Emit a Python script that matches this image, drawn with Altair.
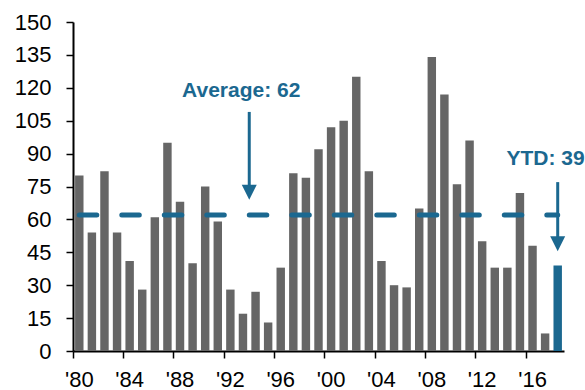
import altair as alt
import pandas as pd

# Annual counts, 1980-2018 (2018 is year-to-date)
years = list(range(1980, 2019))
counts = [80, 54, 82, 54, 41, 28, 61, 95, 68, 40,
          75, 59, 28, 17, 27, 13, 38, 81, 79, 92,
          102, 105, 125, 82, 41, 30, 29, 65, 134, 117,
          76, 96, 50, 38, 38, 72, 48, 8, 39]
average = 62
ytd_year = 2018
ytd_value = 39
tick_years = list(range(1980, 2017, 4))
y_ticks = list(range(0, 151, 15))

GRAY = "#666666"
BLUE = "#1b6890"
FONT = "Liberation Sans"

df = pd.DataFrame({"year": years, "count": counts})

x_scale = alt.Scale(domain=years, paddingInner=0, paddingOuter=0)
y_scale = alt.Scale(domain=[0, 150], nice=False, zero=True)

# Shared axis definitions used by every layer so the merged axes agree
x_axis = alt.Axis(
    values=tick_years,
    bandPosition=0,
    labelExpr="\"'\" + substring(toString(datum.value), 2, 4)",
    labelAngle=0,
    labelPadding=11,
    title=None,
    grid=False,
)
y_axis = alt.Axis(
    values=y_ticks,
    labelPadding=15,
    title=None,
    grid=False,
)

bars = alt.Chart(df).mark_bar(width={"band": 0.67}).encode(
    x=alt.X("year:O", scale=x_scale, sort=None, axis=x_axis),
    y=alt.Y("count:Q", scale=y_scale, axis=y_axis),
    color=alt.condition(alt.datum.year == ytd_year, alt.value(BLUE), alt.value(GRAY)),
)

# Dashed average line spanning the first to the last year
avg_df = pd.DataFrame({"x1": [years[0]], "x2": [years[-1]], "y": [average]})
avg_line = alt.Chart(avg_df).mark_rule(
    color=BLUE, strokeWidth=5, strokeDash=[17.5, 25], strokeCap="round"
).encode(
    x=alt.X("x1:O", scale=x_scale, axis=x_axis),
    x2="x2:O",
    y=alt.Y("y:Q", scale=y_scale, axis=y_axis),
)

# Arrows: shaft (rule) plus a triangular head
arrow_df = pd.DataFrame({
    "year": [1994, ytd_year],
    "top": [109, 77],
    "bottom": [75, 51],
    "head": [72.4, 48.9],
})
ARROW_HEAD = "M-1,-1L1,-1L0,1Z"

shaft_avg = alt.Chart(arrow_df.iloc[[0]]).mark_rule(color=BLUE, strokeWidth=3).encode(
    x=alt.X("year:O", scale=x_scale, bandPosition=0, axis=x_axis),
    y=alt.Y("top:Q", scale=y_scale, axis=y_axis),
    y2="bottom:Q",
)
head_avg = alt.Chart(arrow_df.iloc[[0]]).mark_point(
    shape=ARROW_HEAD, filled=True, size=225, color=BLUE, opacity=1
).encode(
    x=alt.X("year:O", scale=x_scale, bandPosition=0, axis=x_axis),
    y=alt.Y("head:Q", scale=y_scale, axis=y_axis),
)
shaft_ytd = alt.Chart(arrow_df.iloc[[1]]).mark_rule(color=BLUE, strokeWidth=3).encode(
    x=alt.X("year:O", scale=x_scale, axis=x_axis),
    y=alt.Y("top:Q", scale=y_scale, axis=y_axis),
    y2="bottom:Q",
)
head_ytd = alt.Chart(arrow_df.iloc[[1]]).mark_point(
    shape=ARROW_HEAD, filled=True, size=225, color=BLUE, opacity=1
).encode(
    x=alt.X("year:O", scale=x_scale, axis=x_axis),
    y=alt.Y("head:Q", scale=y_scale, axis=y_axis),
)

# Text annotations
label_df = pd.DataFrame({
    "year": [1994, ytd_year],
    "y": [115.8, 85],
    "text": [f"Average: {average}", f"YTD: {ytd_value}"],
})
avg_text = alt.Chart(label_df.iloc[[0]]).mark_text(
    font=FONT, fontSize=21, fontWeight="bold", color=BLUE,
    align="center", baseline="alphabetic", dx=-8,
).encode(
    x=alt.X("year:O", scale=x_scale, bandPosition=0, axis=x_axis),
    y=alt.Y("y:Q", scale=y_scale, axis=y_axis),
    text="text:N",
)
ytd_text = alt.Chart(label_df.iloc[[1]]).mark_text(
    font=FONT, fontSize=21, fontWeight="bold", color=BLUE,
    align="right", baseline="alphabetic", dx=27,
).encode(
    x=alt.X("year:O", scale=x_scale, axis=x_axis),
    y=alt.Y("y:Q", scale=y_scale, axis=y_axis),
    text="text:N",
)

chart = alt.layer(
    bars, avg_line, shaft_avg, head_avg, shaft_ytd, head_ytd, avg_text, ytd_text
).properties(
    width=491,
    height=329,
    autosize=alt.AutoSizeParams(type="none"),
    padding={"left": 73, "top": 22, "right": 21, "bottom": 39},
).configure_view(
    strokeWidth=0
).configure_axis(
    labelFont=FONT,
    labelFontSize=22,
    labelColor="black",
    labelOverlap=False,
    labelBound=False,
    labelFlush=False,
    labelSeparation=0,
    tickSize=7,
    tickWidth=1.5,
    tickColor="black",
    domainColor="black",
    domainWidth=2,
)

chart.save("out.html", embed_options={"renderer": "svg", "actions": False})
